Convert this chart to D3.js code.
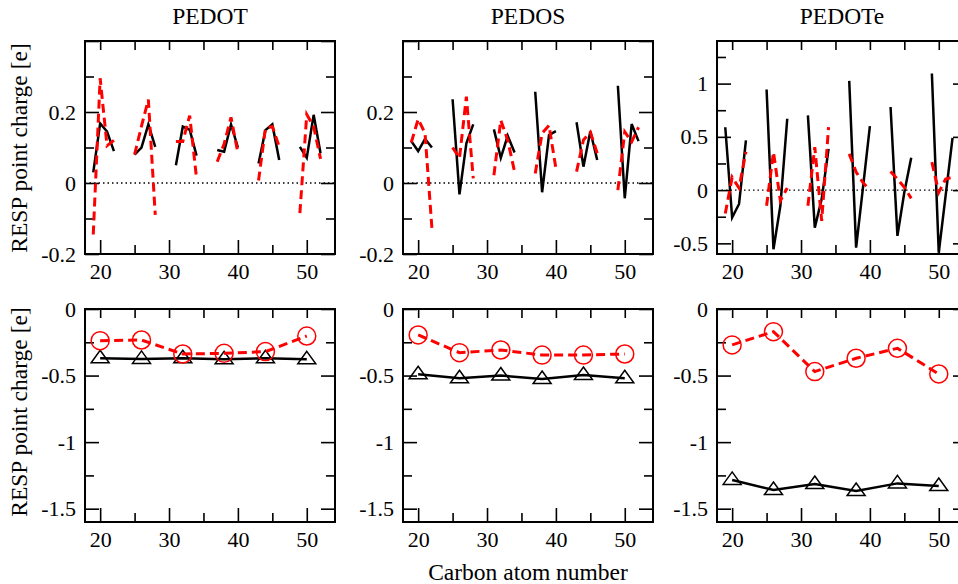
<!DOCTYPE html>
<html>
<head>
<meta charset="utf-8">
<script src="https://cdn.jsdelivr.net/npm/d3@7"></script>
<style>
  body { margin: 0; background: #fff; }
  svg text { font-family: "Liberation Serif", "Times New Roman", Times, serif; fill: #000; }
</style>
</head>
<body>
<svg id="chart" width="958" height="584"></svg>
<script>
// ---- data ----
var panelNames = ['PEDOT', 'PEDOS', 'PEDOTe']

// carbon atoms of the top row (gaps between rings are left open)
var carbonAtoms = [19, 20, 21, 22, 25, 26, 27, 28, 31, 32, 33, 34, 37, 38, 39, 40, 43, 44, 45, 46, 49, 50, 51, 52]

var pedotBlack = [0.03, 0.168, 0.145, 0.09, 0.08, 0.10, 0.165, 0.102, 0.05, 0.159, 0.15, 0.077,
  0.093, 0.088, 0.165, 0.10, 0.055, 0.149, 0.165, 0.065, 0.102, 0.071, 0.192, 0.084]
var pedotRed = [-0.145, 0.295, 0.105, 0.12, 0.08, 0.16, 0.235, -0.09, 0.117, 0.117, 0.19, 0.013,
  0.06, 0.11, 0.185, 0.085, 0.007, 0.154, 0.159, 0.102, -0.085, 0.193, 0.159, 0.068]

var pedosBlack = [0.118, 0.09, 0.124, 0.10, 0.236, -0.032, 0.112, 0.165, 0.151, 0.071, 0.133, 0.086,
  0.257, -0.026, 0.135, 0.146, 0.171, 0.046, 0.146, 0.065, 0.274, -0.043, 0.166, 0.118]
var pedosRed = [0.114, 0.18, 0.14, -0.128, 0.10, 0.07, 0.243, 0.013, 0.022, 0.177, 0.121, 0.032,
  0.027, 0.14, 0.162, 0.041, 0.032, 0.121, 0.143, 0.084, -0.02, 0.144, 0.116, 0.157]

var pedoteBlack = [0.59, -0.257, -0.13, 0.466, 0.944, -0.556, -0.147, 0.67, 0.702, -0.352, -0.084, 0.387,
  1.026, -0.54, 0.026, 0.6, 0.78, -0.43, -0.02, 0.303, 1.095, -0.587, -0.05, 0.49]
var pedoteRed = [-0.22, 0.12, 0.02, 0.36, -0.147, 0.356, -0.1, 0.02, -0.147, 0.403, -0.289, 0.592,
  0.34, 0.17, 0.07, 0.0, 0.174, 0.104, 0.026, -0.078, 0.262, -0.021, 0.104, 0.12]

// bottom row: one atom per ring
var ringAtoms = [20, 26, 32, 38, 44, 50]
var pedotCircle = [-0.238, -0.233, -0.338, -0.333, -0.32, -0.203]
var pedotTriangle = [-0.37, -0.375, -0.37, -0.378, -0.37, -0.378]
var pedosCircle = [-0.195, -0.328, -0.308, -0.346, -0.346, -0.338]
var pedosTriangle = [-0.49, -0.52, -0.50, -0.526, -0.496, -0.52]
var pedoteCircle = [-0.27, -0.17, -0.47, -0.37, -0.295, -0.488]
var pedoteTriangle = [-1.284, -1.36, -1.315, -1.367, -1.31, -1.33]

// ticks
var xMajor = [20, 30, 40, 50]
var xMinor = [25, 35, 45]
var yTopMajor = [-0.2, 0, 0.2, 0.4]
var yTopMinor = [-0.1, 0.1, 0.3]
var yTeMajor = [-0.5, 0, 0.5, 1]
var yTeMinor = [-0.25, 0.25, 0.75, 1.25]
var yBotMajor = [-1.5, -1, -0.5, 0]
var yBotMinor = [-1.25, -0.75, -0.25]

// ---- layout ----
var colLeft = [85, 403, 717]
var rowTop = [41, 309]
var pw = 250, ph = 213
var serif = '"Liberation Serif", "Times New Roman", Times, serif'

var svg = d3.select('#chart')

var x = d3.scaleLinear().domain([17.8, 54.1]).range([0, pw])

var topPanels = [
  { black: pedotBlack, red: pedotRed, dom: [-0.2, 0.4], major: yTopMajor, minor: yTopMinor },
  { black: pedosBlack, red: pedosRed, dom: [-0.2, 0.4], major: yTopMajor, minor: yTopMinor },
  { black: pedoteBlack, red: pedoteRed, dom: [-0.6, 1.4], major: yTeMajor, minor: yTeMinor }
]
var botPanels = [
  { tri: pedotTriangle, circ: pedotCircle },
  { tri: pedosTriangle, circ: pedosCircle },
  { tri: pedoteTriangle, circ: pedoteCircle }
]

// split a series wherever the atom numbers jump
function segments(xs, ys) {
  var out = [], cur = []
  xs.forEach(function(v, i) {
    if (i > 0 && v - xs[i - 1] > 1) { out.push(cur); cur = [] }
    cur.push({ x: v, y: ys[i] })
  })
  out.push(cur)
  return out
}

function fmt(v) { return String(v) }

function drawFrame(g, y, major, minor, labelMajor) {
  // bottom
  g.append('g').attr('transform', 'translate(0,' + ph + ')')
    .call(d3.axisBottom(x).tickValues(xMajor).tickSize(-14).tickPadding(9).tickFormat(fmt))
  g.append('g').attr('transform', 'translate(0,' + ph + ')')
    .call(d3.axisBottom(x).tickValues(xMinor).tickSize(-9).tickFormat(''))
  // top
  g.append('g').call(d3.axisTop(x).tickValues(xMajor.concat(xMinor)).tickSize(-9).tickFormat(''))
  // left
  g.append('g')
    .call(d3.axisLeft(y).tickValues(major).tickSize(-14).tickPadding(9)
      .tickFormat(function(d) { return labelMajor.indexOf(d) >= 0 ? fmt(d) : '' }))
  g.append('g').call(d3.axisLeft(y).tickValues(minor).tickSize(-9).tickFormat(''))
  // right
  g.append('g').attr('transform', 'translate(' + pw + ',0)')
    .call(d3.axisRight(y).tickValues(major).tickSize(-14).tickFormat(''))
  g.append('g').attr('transform', 'translate(' + pw + ',0)')
    .call(d3.axisRight(y).tickValues(minor).tickSize(-9).tickFormat(''))

  g.selectAll('.domain').remove()
  g.selectAll('g').attr('font-family', serif).attr('font-size', 22)
  g.selectAll('.tick line').attr('stroke', '#000').attr('stroke-width', 1.6)
  g.selectAll('.tick text').attr('font-family', serif).attr('font-size', 22).attr('fill', '#000')

  g.append('rect')
    .attr('width', pw).attr('height', ph)
    .attr('fill', 'none').attr('stroke', '#000').attr('stroke-width', 2)
}

// ---- top row ----
topPanels.forEach(function(p, i) {
  var g = svg.append('g').attr('transform', 'translate(' + colLeft[i] + ',' + rowTop[0] + ')')
  var y = d3.scaleLinear().domain(p.dom).range([ph, 0])

  var labels = p.major.filter(function(d) { return d !== 0.4 })
  drawFrame(g, y, p.major, p.minor, labels)

  g.append('line')
    .attr('x1', 0).attr('x2', pw).attr('y1', y(0)).attr('y2', y(0))
    .attr('stroke', '#000').attr('stroke-width', 1.4).attr('stroke-dasharray', '1.5,3')

  var line = d3.line().x(function(d) { return x(d.x) }).y(function(d) { return y(d.y) })

  g.selectAll('.blk').data(segments(carbonAtoms, p.black)).enter()
    .append('path').attr('class', 'blk')
    .attr('d', line).attr('fill', 'none').attr('stroke', '#000').attr('stroke-width', 2.5)

  g.selectAll('.red').data(segments(carbonAtoms, p.red)).enter()
    .append('path').attr('class', 'red')
    .attr('d', line).attr('fill', 'none').attr('stroke', '#ff0000').attr('stroke-width', 3)
    .attr('stroke-dasharray', '9,5')

  svg.append('text')
    .attr('x', colLeft[i] + pw / 2).attr('y', 24)
    .attr('text-anchor', 'middle')
    .attr('font-family', serif).attr('font-size', 23.5)
    .text(panelNames[i])
})

// ---- bottom row ----
var triPath = 'M0,-8L9,4.5L-9,4.5Z'

botPanels.forEach(function(p, i) {
  var g = svg.append('g').attr('transform', 'translate(' + colLeft[i] + ',' + rowTop[1] + ')')
  var y = d3.scaleLinear().domain([-1.6, 0]).range([ph, 0])

  drawFrame(g, y, yBotMajor, yBotMinor, yBotMajor)

  var line = d3.line().x(function(d) { return x(d.x) }).y(function(d) { return y(d.y) })
  var tri = ringAtoms.map(function(v, k) { return { x: v, y: p.tri[k] } })
  var circ = ringAtoms.map(function(v, k) { return { x: v, y: p.circ[k] } })

  g.append('path').datum(tri)
    .attr('d', line).attr('fill', 'none').attr('stroke', '#000').attr('stroke-width', 2.5)
  g.selectAll('.tri').data(tri).enter()
    .append('path').attr('class', 'tri')
    .attr('transform', function(d) { return 'translate(' + x(d.x) + ',' + y(d.y) + ')' })
    .attr('d', triPath).attr('fill', 'none').attr('stroke', '#000').attr('stroke-width', 1.5)

  g.append('path').datum(circ)
    .attr('d', line).attr('fill', 'none').attr('stroke', '#ff0000').attr('stroke-width', 3)
    .attr('stroke-dasharray', '9,5')
  g.selectAll('.circ').data(circ).enter()
    .append('circle').attr('class', 'circ')
    .attr('cx', function(d) { return x(d.x) }).attr('cy', function(d) { return y(d.y) })
    .attr('r', 9).attr('fill', 'none').attr('stroke', '#ff0000').attr('stroke-width', 1.5)
})

// ---- axis titles ----
;[148, 412].forEach(function(cy) {
  svg.append('text')
    .attr('transform', 'translate(27,' + cy + ') rotate(-90)')
    .attr('text-anchor', 'middle')
    .attr('font-family', serif).attr('font-size', 23.5)
    .text('RESP point charge [e]')
})

svg.append('text')
  .attr('x', colLeft[1] + pw / 2).attr('y', 580)
  .attr('text-anchor', 'middle')
  .attr('font-family', serif).attr('font-size', 23.5)
  .text('Carbon atom number')
</script>
</body>
</html>
